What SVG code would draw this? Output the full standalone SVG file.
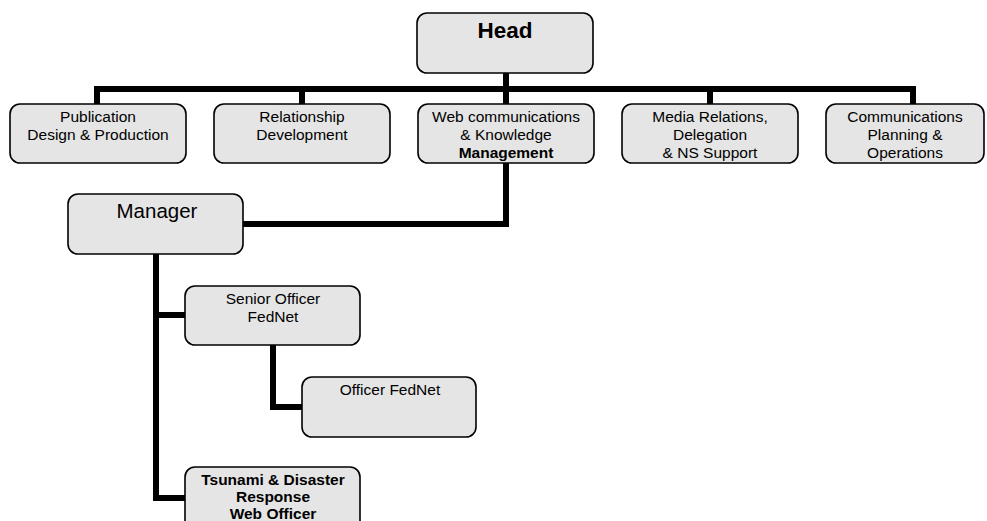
<svg xmlns="http://www.w3.org/2000/svg" width="987" height="521" viewBox="0 0 987 521">
<style>
.box{fill:#e5e5e5;stroke:#000;stroke-width:1.6}
.t{font-family:"Liberation Sans",Arial,sans-serif;font-size:15.5px;fill:#000;text-anchor:middle}
.b{font-weight:bold}
.c{fill:none;stroke:#000;stroke-width:6;stroke-linejoin:miter}
</style>
<rect width="987" height="521" fill="#fff"/>
<g id="connectors">
<path class="c" d="M506 73V89"/>
<path class="c" d="M97 104V89H913V104"/>
<path class="c" d="M302 89V104M506 89V104M710 89V104"/>
<path class="c" d="M506 163V224H243"/>
<path class="c" d="M156 254V498H185M156 315H185"/>
<path class="c" d="M273 345V407H302"/>
</g>
<g id="head"><rect class="box" x="417" y="13" width="176" height="60" rx="10"/><text class="t b" x="505" y="38" style="font-size:22.5px">Head</text></g>
<g id="publication"><rect class="box" x="10" y="104" width="176" height="59" rx="10"/><text class="t" x="98" y="122">Publication</text><text class="t" x="98" y="140">Design &amp; Production</text></g>
<g id="relationship"><rect class="box" x="214" y="104" width="176" height="59" rx="10"/><text class="t" x="302" y="122">Relationship</text><text class="t" x="302" y="140">Development</text></g>
<g id="web"><rect class="box" x="418" y="104" width="176" height="59" rx="10"/><text class="t" x="506" y="122">Web communications</text><text class="t" x="506" y="140">&amp; Knowledge</text><text class="t b" x="506" y="158">Management</text></g>
<g id="media"><rect class="box" x="622" y="104" width="176" height="59" rx="10"/><text class="t" x="710" y="122">Media Relations,</text><text class="t" x="710" y="140">Delegation</text><text class="t" x="710" y="158">&amp; NS Support</text></g>
<g id="comms"><rect class="box" x="826" y="104" width="158" height="59" rx="10"/><text class="t" x="905" y="122">Communications</text><text class="t" x="905" y="140">Planning &amp;</text><text class="t" x="905" y="158">Operations</text></g>
<g id="manager"><rect class="box" x="68" y="194" width="175" height="60" rx="10"/><text class="t" x="157" y="218" style="font-size:20.5px">Manager</text></g>
<g id="senior"><rect class="box" x="185" y="286" width="175" height="59" rx="10"/><text class="t" x="273" y="304">Senior Officer</text><text class="t" x="273" y="322">FedNet</text></g>
<g id="officer"><rect class="box" x="302" y="377" width="174" height="60" rx="10"/><text class="t" x="390" y="395">Officer FedNet</text></g>
<g id="tsunami"><rect class="box" x="185" y="467" width="175" height="70" rx="10"/><text class="t b" x="273" y="485">Tsunami &amp; Disaster</text><text class="t b" x="273" y="502">Response</text><text class="t b" x="273" y="519">Web Officer</text></g>
</svg>
